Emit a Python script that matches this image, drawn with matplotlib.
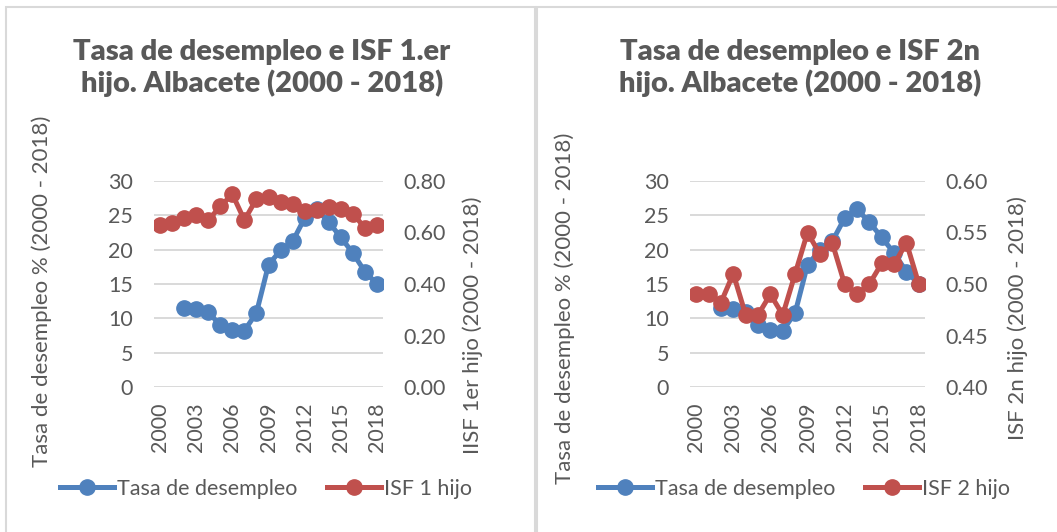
import matplotlib.pyplot as plt
from matplotlib.lines import Line2D
from matplotlib.patches import Rectangle

plt.rcParams["font.family"] = ["Lato", "DejaVu Sans"]

years = list(range(2000, 2019))
# unemployment rate (%) starts in 2002
paro_years = list(range(2002, 2019))
paro = [11.5, 11.3, 10.9, 9.0, 8.3, 8.2, 10.8, 17.8, 19.9, 21.2,
        24.6, 25.9, 24.0, 21.8, 19.5, 16.8, 15.0]
isf1 = [0.629, 0.638, 0.657, 0.669, 0.648, 0.701, 0.749, 0.648, 0.730, 0.739,
        0.720, 0.711, 0.683, 0.688, 0.698, 0.692, 0.673, 0.618, 0.631]
isf2 = [0.490, 0.490, 0.482, 0.510, 0.470, 0.470, 0.490, 0.470, 0.510, 0.550,
        0.529, 0.540, 0.500, 0.490, 0.500, 0.520, 0.519, 0.540, 0.500]

xticks = [2000, 2003, 2006, 2009, 2012, 2015, 2018]

BLUE = "#4F81BD"
RED = "#C0504D"
TXT = "#595959"
GRID = "#D9D9D9"
FS = 15.5

W, H = 1057, 532
fig = plt.figure(figsize=(W / 100, H / 100), dpi=100)

# panel borders
for x0, x1 in [(5.5, 535), (537, W + 10)]:
    fig.patches.append(Rectangle((x0 / W, -0.05), (x1 - x0) / W, 1.05 - 6.5 / H,
                                 transform=fig.transFigure, fill=False,
                                 edgecolor=GRID, linewidth=1.5))

panels = [
    dict(left=154, right=383, isf=isf1, ylim2=(0, 0.8), yt2=[0, 0.2, 0.4, 0.6, 0.8],
         fmt2="{:.2f}", title="Tasa de desempleo e ISF 1.er\nhijo. Albacete (2000 - 2018)",
         tx=262, ylab_x=42, ylab_y=291, ylab2="IISF 1er hijo (2000 - 2018)",
         ylab2_x=473, ylab2_y=325, leg="ISF 1 hijo", leg_x=266),
    dict(left=690, right=925, isf=isf2, ylim2=(0.4, 0.6),
         yt2=[0.4, 0.45, 0.5, 0.55, 0.6], fmt2="{:.2f}",
         title="Tasa de desempleo e ISF 2n\nhijo. Albacete (2000 - 2018)",
         tx=800, ylab_x=565, ylab_y=308, ylab2="ISF 2n hijo (2000 - 2018)",
         ylab2_x=1018, ylab2_y=318, leg="ISF 2 hijo", leg_x=804),
]

top, bottom = 181, 387
for p in panels:
    ax = fig.add_axes([p["left"] / W, 1 - bottom / H,
                       (p["right"] - p["left"]) / W, (bottom - top) / H])
    ax2 = ax.twinx()
    ax.set_zorder(ax2.get_zorder() - 1)
    ax2.patch.set_visible(False)

    ax.plot(paro_years, paro, color=BLUE, lw=3.6, marker="o", ms=11,
            solid_capstyle="round")
    ax2.plot(years, p["isf"], color=RED, lw=3.6, marker="o", ms=11,
             solid_capstyle="round")

    ax.set_xlim(1999.5, 2018.5)
    ax.set_ylim(0, 30)
    ax.set_yticks(range(0, 31, 5))
    ax.set_xticks(xticks)
    ax.set_xticklabels([str(y) for y in xticks], rotation=90)
    ax2.set_ylim(*p["ylim2"])
    ax2.set_yticks(p["yt2"])
    ax2.set_yticklabels([p["fmt2"].format(v) for v in p["yt2"]])

    ax.grid(axis="y", color=GRID, lw=1.4)
    ax.set_axisbelow(True)
    for a in (ax, ax2):
        for s in a.spines.values():
            s.set_visible(False)
    ax.tick_params(axis="y", length=0, pad=15, labelsize=FS, labelcolor=TXT)
    ax.tick_params(axis="x", length=0, pad=11, labelsize=FS, labelcolor=TXT)
    ax2.tick_params(axis="y", length=0, pad=15, labelsize=FS, labelcolor=TXT)

    fig.text(p["tx"] / W, 1 - 68 / H, p["title"], ha="center", va="center",
             fontsize=21, fontweight="heavy", color=TXT, linespacing=1.2)
    fig.text(p["ylab_x"] / W, 1 - p["ylab_y"] / H, "Tasa de desempleo % (2000 - 2018)",
             rotation=90, ha="center", va="center", fontsize=16, color=TXT)
    fig.text(p["ylab2_x"] / W, 1 - p["ylab2_y"] / H, p["ylab2"],
             rotation=90, ha="center", va="center", fontsize=16, color=TXT)

    handles = [Line2D([], [], color=BLUE, lw=3.6, marker="o", ms=11),
               Line2D([], [], color=RED, lw=3.6, marker="o", ms=11)]
    fig.legend(handles, ["Tasa de desempleo", p["leg"]], loc="center",
               bbox_to_anchor=(p["leg_x"] / W, 1 - 489 / H), ncol=2,
               frameon=False, fontsize=FS, labelcolor=TXT, handlelength=2.5,
               handletextpad=0.15, columnspacing=1.4)

fig.savefig("out.png", dpi=100)
